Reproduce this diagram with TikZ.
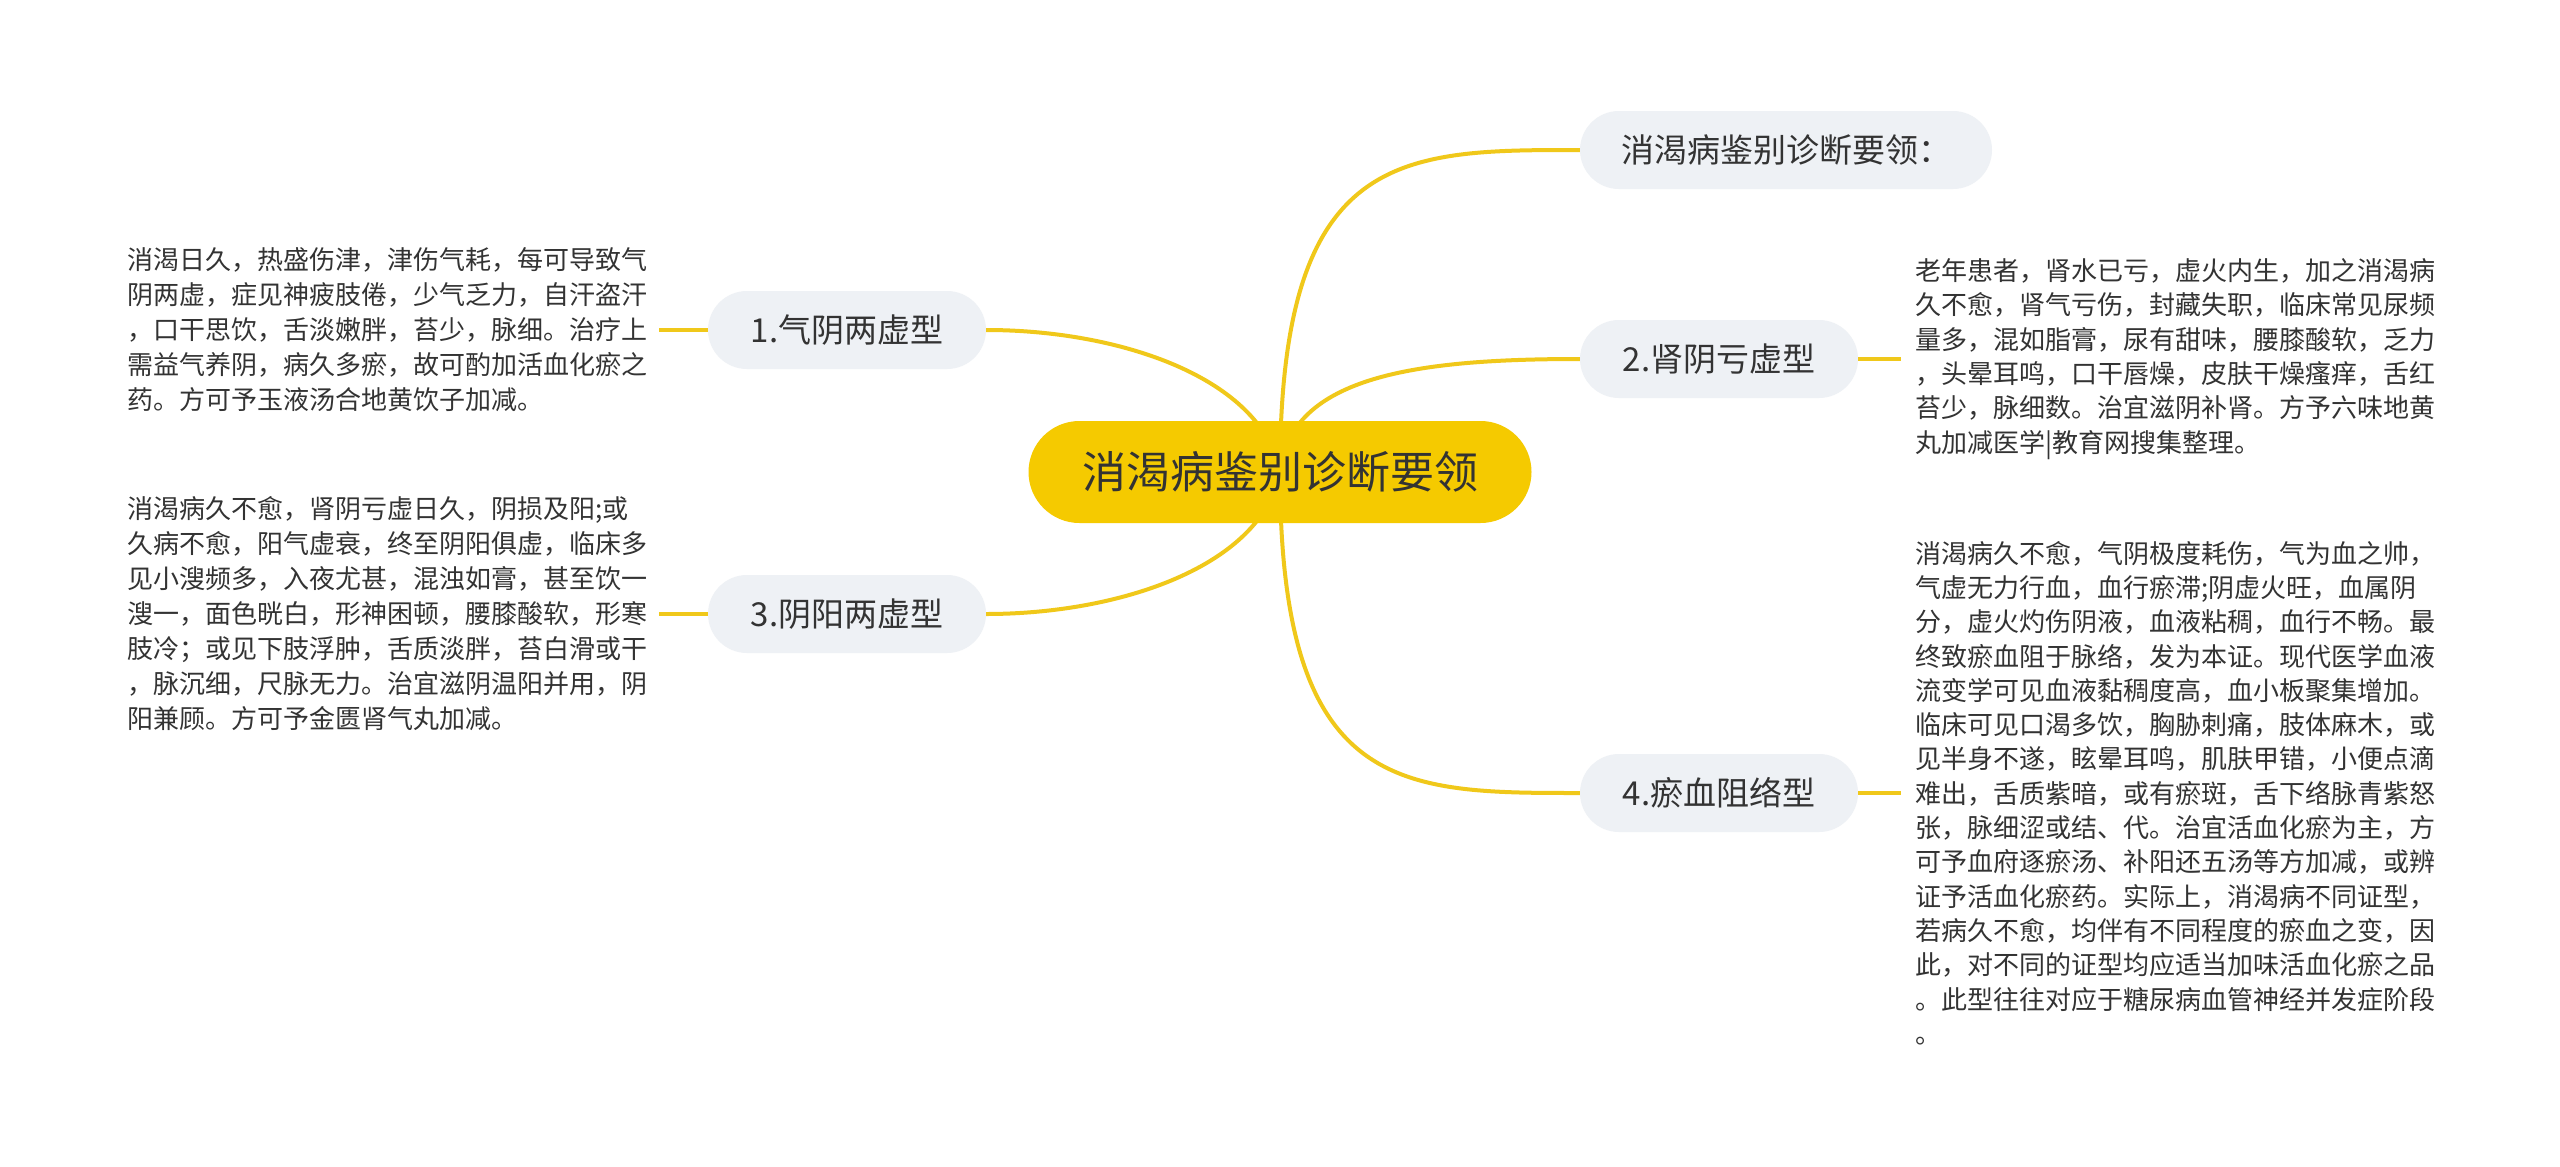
\documentclass[tikz,border=0pt]{standalone}
\usepackage{fontspec}
\setmainfont{Noto Sans CJK SC}
\usetikzlibrary{backgrounds}
\definecolor{rootyellow}{HTML}{F5CA00}
\definecolor{lineyellow}{HTML}{F0C81A}
\definecolor{nodegrey}{HTML}{EEF1F5}
\definecolor{txt}{HTML}{333333}
\begin{document}
\begin{tikzpicture}[x=1pt,y=-1pt,
  root/.style={fill=rootyellow, rounded corners=51pt, minimum height=102pt, minimum width=503pt, inner sep=0pt, font=\fontsize{44}{52}\selectfont, text=txt},
  topic/.style={fill=nodegrey, rounded corners=39pt, minimum height=78pt, minimum width=278pt, inner sep=0pt, font=\fontsize{33}{40}\selectfont, text=txt},
  bodyl/.style={align=left, anchor=west, inner xsep=12pt, inner ysep=0pt, font=\fontsize{26}{35}\selectfont, text=txt},
  bodyr/.style={align=left, anchor=west, inner xsep=14pt, inner ysep=0pt, font=\fontsize{26}{34.3}\selectfont, text=txt},
  link/.style={draw=lineyellow, line width=4pt}]
\useasboundingbox (0,0) rectangle (2560,1167);

\node[root] (c) at (1280,472) {消渴病鉴别诊断要领};
\node[topic, minimum width=412pt] (t0) at (1786,150) {消渴病鉴别诊断要领：};
\node[topic] (t2) at (1719,359) {2.肾阴亏虚型};
\node[topic] (t4) at (1719,793) {4.瘀血阻络型};
\node[topic] (t1) at (847,330) {1.气阴两虚型};
\node[topic] (t3) at (847,614) {3.阴阳两虚型};

\node[bodyl] (b1) at (115,330) {消渴日久，热盛伤津，津伤气耗，每可导致气\\阴两虚，症见神疲肢倦，少气乏力，自汗盗汗\\，口干思饮，舌淡嫩胖，苔少，脉细。治疗上\\需益气养阴，病久多瘀，故可酌加活血化瘀之\\药。方可予玉液汤合地黄饮子加减。};
\node[bodyl] (b3) at (115,614) {消渴病久不愈，肾阴亏虚日久，阴损及阳;或\\久病不愈，阳气虚衰，终至阴阳俱虚，临床多\\见小溲频多，入夜尤甚，混浊如膏，甚至饮一\\溲一，面色晄白，形神困顿，腰膝酸软，形寒\\肢冷；或见下肢浮肿，舌质淡胖，苔白滑或干\\，脉沉细，尺脉无力。治宜滋阴温阳并用，阴\\阳兼顾。方可予金匮肾气丸加减。};
\node[bodyr] (b2) at (1901,359) {老年患者，肾水已亏，虚火内生，加之消渴病\\久不愈，肾气亏伤，封藏失职，临床常见尿频\\量多，混如脂膏，尿有甜味，腰膝酸软，乏力\\，头晕耳鸣，口干唇燥，皮肤干燥瘙痒，舌红\\苔少，脉细数。治宜滋阴补肾。方予六味地黄\\丸加减医学|教育网搜集整理。};
\node[bodyr] (b4) at (1901,793) {消渴病久不愈，气阴极度耗伤，气为血之帅，\\气虚无力行血，血行瘀滞;阴虚火旺，血属阴\\分，虚火灼伤阴液，血液粘稠，血行不畅。最\\终致瘀血阻于脉络，发为本证。现代医学血液\\流变学可见血液黏稠度高，血小板聚集增加。\\临床可见口渴多饮，胸胁刺痛，肢体麻木，或\\见半身不遂，眩晕耳鸣，肌肤甲错，小便点滴\\难出，舌质紫暗，或有瘀斑，舌下络脉青紫怒\\张，脉细涩或结、代。治宜活血化瘀为主，方\\可予血府逐瘀汤、补阳还五汤等方加减，或辨\\证予活血化瘀药。实际上，消渴病不同证型，\\若病久不愈，均伴有不同程度的瘀血之变，因\\此，对不同的证型均应适当加味活血化瘀之品\\。此型往往对应于糖尿病血管神经并发症阶段\\。};

\begin{scope}[on background layer]
\fill[white] (0,0) rectangle (2560,1167);
\draw[link] (c.center) .. controls (1280,150) and (1400,150) .. (t0.west);
\draw[link] (c.center) .. controls (1290,375) and (1420,359) .. (t2.west);
\draw[link] (c.center) .. controls (1280,793) and (1400,793) .. (t4.west);
\draw[link] (c.center) .. controls (1262,378) and (1120,330) .. (t1.east);
\draw[link] (c.center) .. controls (1262,566) and (1120,614) .. (t3.east);
\end{scope}
\draw[link] (t2.east) -- (b2.west);
\draw[link] (t4.east) -- (b4.west);
\draw[link] (t1.west) -- (b1.east);
\draw[link] (t3.west) -- (b3.east);
\end{tikzpicture}
\end{document}
